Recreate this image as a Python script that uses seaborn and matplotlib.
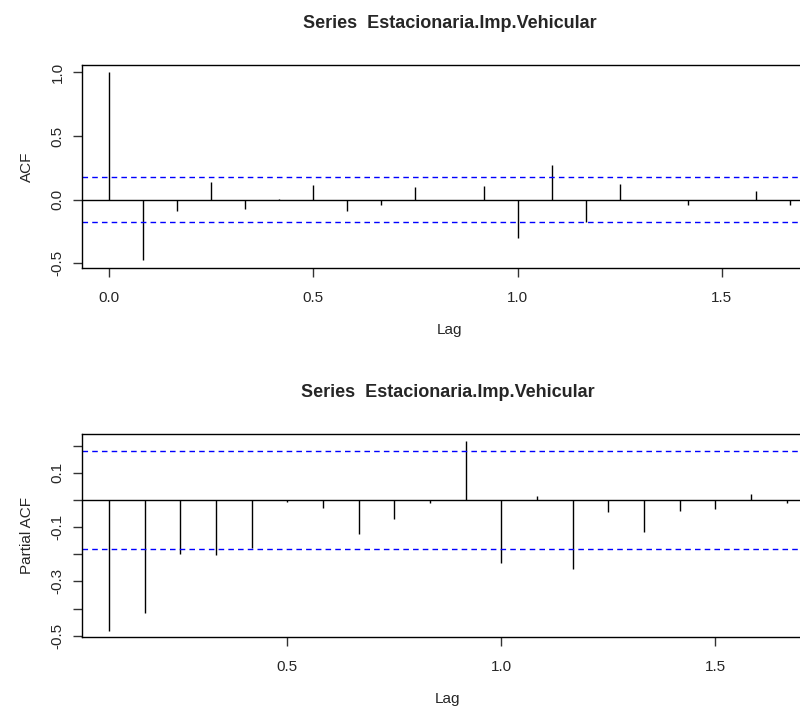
import numpy as np
import pandas as pd
import matplotlib
matplotlib.use("Agg")
import matplotlib.pyplot as plt
import seaborn as sns

freq = 12
acf_lags = [0, 1, 2, 3, 4, 5, 6, 7, 8, 9, 10, 11, 12, 13, 14, 15, 16, 17, 18, 19, 20]
acf_vals = [1.0, -0.476, -0.094, 0.136, -0.078, 0.008, 0.115, -0.094, -0.047, 0.099,
            0.0, 0.107, -0.300, 0.274, -0.177, 0.120, 0.0, -0.040, 0.0, 0.068, -0.040]
pacf_lags = [1, 2, 3, 4, 5, 6, 7, 8, 9, 10, 11, 12, 13, 14, 15, 16, 17, 18, 19, 20]
pacf_vals = [-0.481, -0.415, -0.200, -0.204, -0.176, -0.006, -0.031, -0.125, -0.071, -0.010,
             0.217, -0.231, 0.015, -0.255, -0.044, -0.117, -0.041, -0.032, 0.022, -0.012]
conf = 0.18
title = "Series  Estacionaria.Imp.Vehicular"

sns.set_style("white")
plt.rcParams['font.family'] = ['Liberation Sans', 'DejaVu Sans']

df_acf = pd.DataFrame({'lag': np.array(acf_lags) / freq, 'val': acf_vals})
df_pacf = pd.DataFrame({'lag': np.array(pacf_lags) / freq, 'val': pacf_vals})

W, H = 800, 709
fig = plt.figure(figsize=(W / 100, H / 100), dpi=100)
# axes run past the right edge on purpose, the original was cropped there
ax1 = fig.add_axes([82 / W, 1 - 268 / H, 735 / W, 203 / H])
ax2 = fig.add_axes([82 / W, 1 - 637.3 / H, 731.7 / W, 203 / H])


def draw(ax, df, ylabel, xlim, ylim):
    ax.vlines(df['lag'], 0, df['val'], color='black', lw=1)
    ax.axhline(0, color='black', lw=1)
    sns.lineplot(x=list(xlim), y=[conf, conf], ax=ax, color='blue',
                 lw=1, dashes=False, linestyle=(0, (4, 3)))
    sns.lineplot(x=list(xlim), y=[-conf, -conf], ax=ax, color='blue',
                 lw=1, dashes=False, linestyle=(0, (4, 3)))
    ax.set_xlim(*xlim)
    ax.set_ylim(*ylim)
    for s in ax.spines.values():
        s.set_color('black')
        s.set_linewidth(1)
    ax.tick_params(axis='both', direction='out', length=6.5, width=1,
                   color='#333333', labelsize=11, bottom=True, left=True)
    ax.tick_params(axis='x', pad=10)
    ax.tick_params(axis='y', pad=6)
    for lab in ax.get_yticklabels():
        lab.set_rotation(90)
        lab.set_va('center')
    ax.set_title(title, fontsize=13, fontweight='bold', pad=27)
    ax.set_xlabel('Lag', fontsize=11, labelpad=13)
    ax.set_ylabel(ylabel, fontsize=11, labelpad=12)


# ACF panel
ax1.set_xticks([0.0, 0.5, 1.0, 1.5])
ax1.set_xticklabels(['0.0', '0.5', '1.0', '1.5'])
ax1.set_yticks([-0.5, 0.0, 0.5, 1.0])
ax1.set_yticklabels(['-0.5', '0.0', '0.5', '1.0'])
draw(ax1, df_acf, 'ACF', (-0.0667, 1.7333), (-0.539, 1.059))

# PACF panel: ticks every 0.1, R only labels every other one
ax2.set_xticks([0.5, 1.0, 1.5])
ax2.set_xticklabels(['0.5', '1.0', '1.5'])
yt = [-0.5, -0.4, -0.3, -0.2, -0.1, 0.0, 0.1, 0.2]
ax2.set_yticks(yt)
ax2.set_yticklabels(['-0.5', '', '-0.3', '', '-0.1', '', '0.1', ''])
draw(ax2, df_pacf, 'Partial ACF', (0.02, 1.73), (-0.506, 0.242))

fig.savefig('out.png', dpi=100)
